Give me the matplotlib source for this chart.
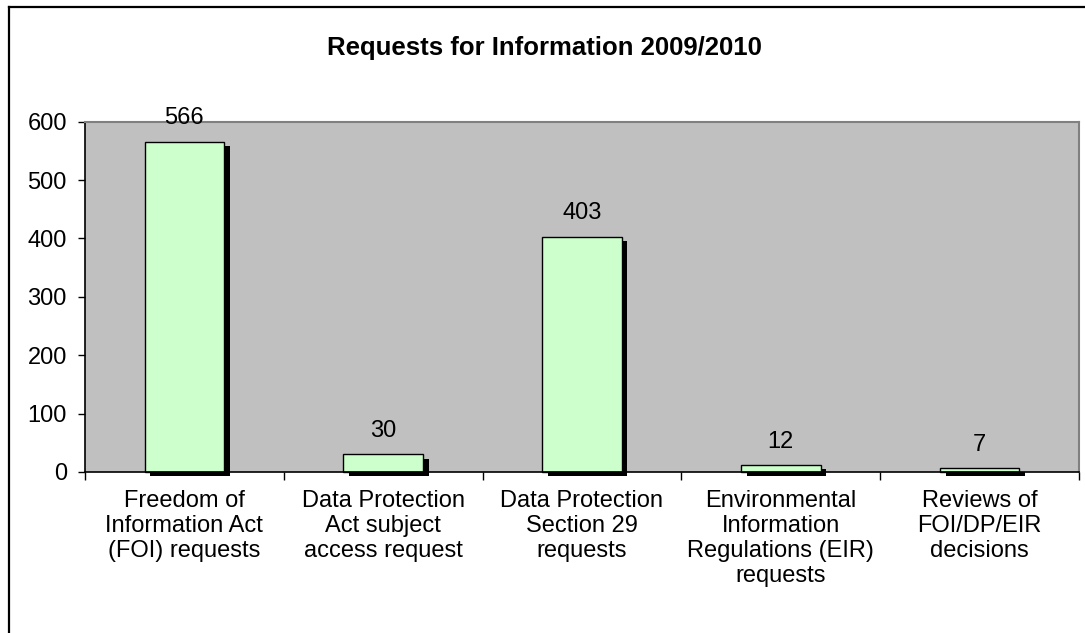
import matplotlib
matplotlib.use("Agg")
import matplotlib.pyplot as plt
import matplotlib.patheffects as pe
from matplotlib.lines import Line2D

plt.rcParams['font.family'] = ['Liberation Sans', 'DejaVu Sans']

categories = [
    "Freedom of\nInformation Act\n(FOI) requests",
    "Data Protection\nAct subject\naccess request",
    "Data Protection\nSection 29\nrequests",
    "Environmental\nInformation\nRegulations (EIR)\nrequests",
    "Reviews of\nFOI/DP/EIR\ndecisions",
]
values = [566, 30, 403, 12, 7]
yticks = [0, 100, 200, 300, 400, 500, 600]
title = "Requests for Information 2009/2010"

W, H = 1085, 633
fig = plt.figure(figsize=(W / 100, H / 100), dpi=100)
fig.patch.set_facecolor('white')

ax_l, ax_r, ax_t, ax_b = 85, 1079, 121.7, 472
ax = fig.add_axes([ax_l / W, 1 - ax_b / H, (ax_r - ax_l) / W, (ax_b - ax_t) / H])
ax.set_facecolor('#C0C0C0')

x = list(range(len(categories)))
bars = ax.bar(x, values, width=0.4, color='#CCFFCC', edgecolor='black',
              linewidth=1.0, zorder=3)
for b in bars:
    b.set_clip_on(False)
    b.set_path_effects([pe.SimplePatchShadow(offset=(4.1, -3.1),
                                             shadow_rgbFace='black', alpha=1.0),
                        pe.Normal()])

for xi, v in zip(x, values):
    ax.annotate(str(v), (xi, v), xytext=(0, 12.5), textcoords='offset points',
                ha='center', va='baseline', fontsize=17, color='black',
                annotation_clip=False)

ax.set_xlim(-0.5, len(categories) - 0.5)
ax.set_ylim(0, 600)
ax.set_yticks(yticks)
ax.set_yticklabels([str(t) for t in yticks], fontsize=17)
ax.tick_params(axis='y', direction='out', length=5, width=1, pad=8, colors='black')

ax.set_xticks(x)
ax.set_xticklabels(categories, fontsize=17, linespacing=1.18)
ax.tick_params(axis='x', which='major', length=0, pad=13)
ax.set_xticks([i - 0.5 for i in range(len(categories) + 1)], minor=True)
ax.tick_params(axis='x', which='minor', direction='out', length=5.5, width=1, colors='black')

for s in ['top', 'right']:
    ax.spines[s].set_color('#808080')
    ax.spines[s].set_linewidth(1.5)
for s in ['left', 'bottom']:
    ax.spines[s].set_color('black')
    ax.spines[s].set_linewidth(1.2)
ax.spines['bottom'].set_zorder(4)

fig.text(544 / W, 1 - 55 / H, title, ha='center', va='baseline',
         fontsize=18.5, fontweight='bold')

# figure border (top and left visible)
fig.add_artist(Line2D([8.5 / W, 1.2], [1 - 7 / H, 1 - 7 / H], transform=fig.transFigure,
                      color='black', linewidth=1.6))
fig.add_artist(Line2D([8.5 / W, 8.5 / W], [1 - 7 / H, -0.2], transform=fig.transFigure,
                      color='black', linewidth=1.6))

fig.savefig('out.png', dpi=100)
